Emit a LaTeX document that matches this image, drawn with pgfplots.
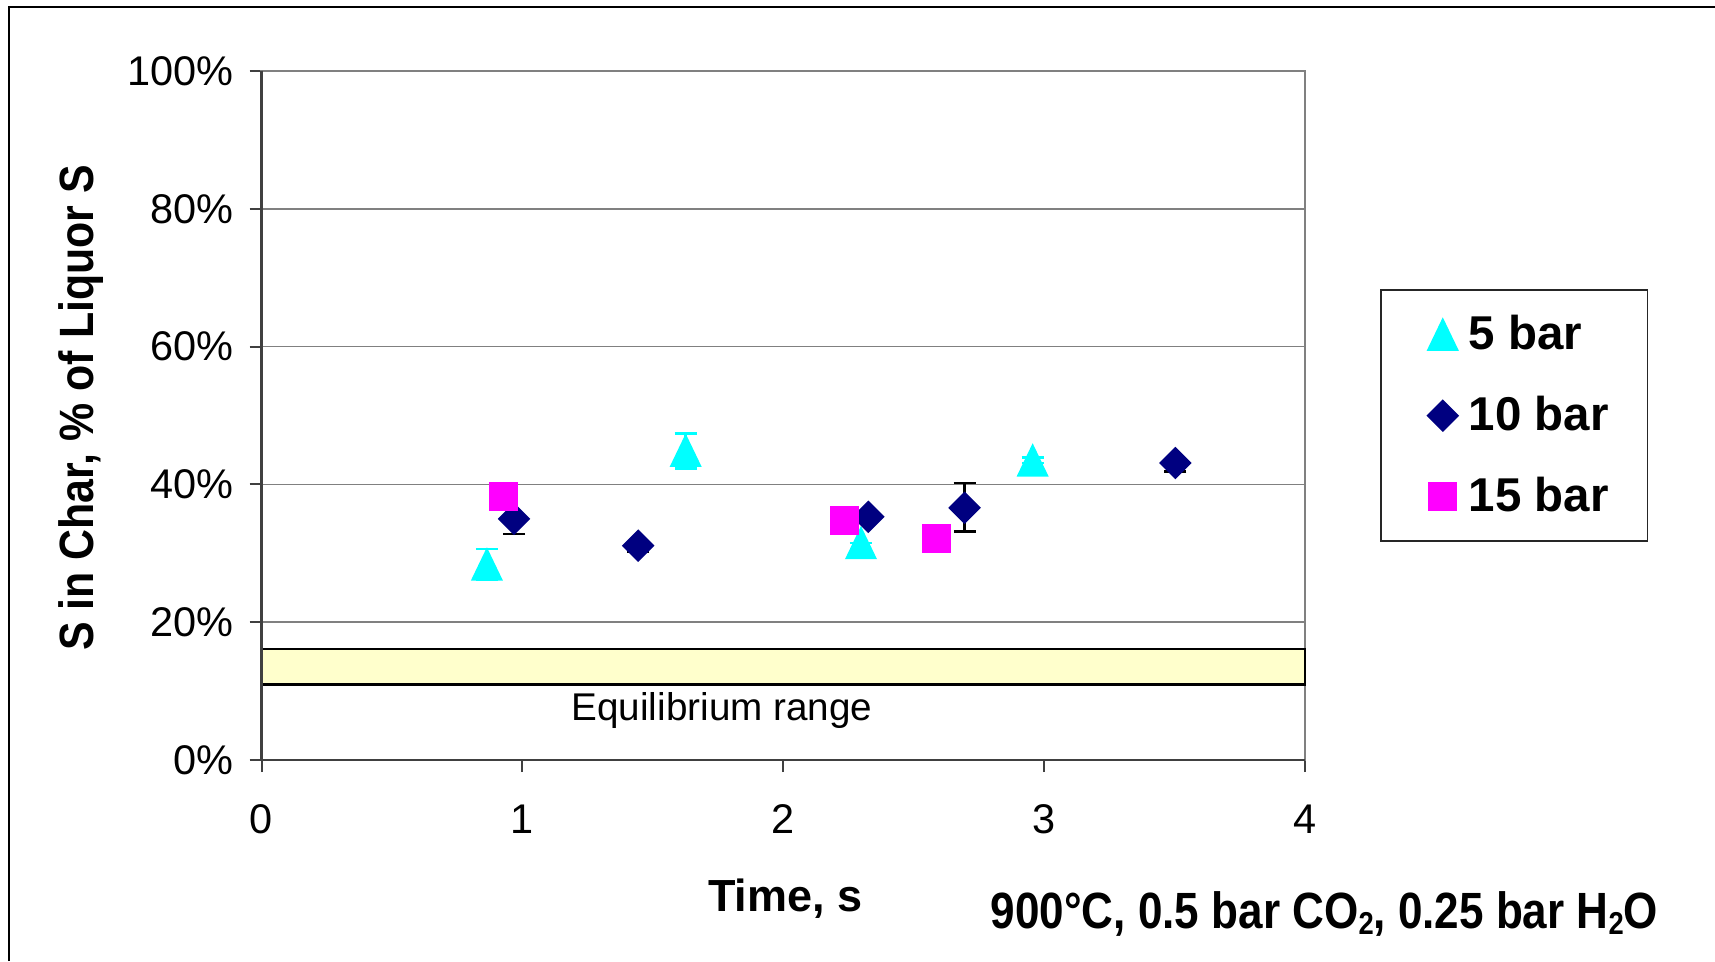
\documentclass[border=0pt]{standalone}
\usepackage{pgfplots}
\usepackage{pgfplotstable}
\pgfplotsset{compat=1.18}
\usepackage{fontspec}
\setmainfont{Liberation Sans}
\definecolor{cyanM}{RGB}{0,255,255}
\definecolor{navyM}{RGB}{0,0,128}
\definecolor{magM}{RGB}{255,0,255}
\definecolor{eqfill}{RGB}{255,255,204}
\definecolor{gridgray}{RGB}{128,128,128}
\definecolor{axdark}{RGB}{64,64,64}

\pgfplotstableread{
x y ep em
0.864 28.4 2.2 2.2
1.626 44.9 2.5 2.6
2.298 31.5 0 0
2.956 43.5 0.4 0.4
}\fivebar
\pgfplotstableread{
x y ep em
0.968 35.0 0 2.2
1.444 31.1 0 0.9
2.326 35.3 0 0
2.695 36.6 3.6 3.4
3.503 43.1 0 1.2
}\tenbar
\pgfplotstableread{
x y
0.927 38.2
2.234 34.7
2.588 32.1
}\fifteenbar

\begin{document}
\begin{tikzpicture}
\useasboundingbox (0,0) rectangle (17.15,9.61);
\draw[black, line width=0.2mm] (0.093,0) -- (0.093,9.543) -- (17.15,9.543);
\begin{axis}[
  at={(2.615cm,2.01cm)}, anchor=south west,
  scale only axis, width=10.435cm, height=6.89cm,
  xmin=0, xmax=4, ymin=0, ymax=100,
  xtick={0,1,2,3,4}, xticklabels={0,1,2,3,4},
  ytick={0,20,40,60,80,100}, yticklabels={0\%,20\%,40\%,60\%,80\%,100\%},
  xtick pos=left, ytick pos=left,
  tick align=outside, major tick length=1.2mm,
  tick style={draw=axdark, line width=0.2mm},
  ymajorgrids, major grid style={draw=gridgray, line width=0.17mm},
  axis line style={draw=gridgray, line width=0.25mm},
  ticklabel style={font=\fontsize{11.8}{13}\selectfont, inner sep=0pt},
  yticklabel style={xshift=-1.5mm},
  xticklabel style={yshift=-3.2mm},
  xlabel={Time, s},
  xlabel style={at={(axis description cs:0.502,-0.2206)}, anchor=base, inner sep=0pt, font=\fontsize{12.8}{15}\bfseries\selectfont},
  ylabel={\scalebox{0.89}[1]{S in Char, \% of Liquor S}},
  ylabel style={at={(axis description cs:-0.1612,0.511)}, anchor=base, inner sep=0pt, font=\fontsize{13.7}{16}\bfseries\selectfont},
  clip=false,
  legend style={at={(1.0719,0.683)}, anchor=north west, draw=black!85, line width=0.15mm, fill=white,
    font=\fontsize{13.5}{16}\bfseries\selectfont, inner xsep=3.9mm, inner ysep=2.45mm,
    row sep=4.15mm, column sep=1.0mm, nodes={inner sep=0pt}},
  legend cell align=left,
  legend image code/.code={\draw[#1] plot coordinates {(0cm,0cm)}; \path[draw=none, fill=none] (-2.3mm,-1.6mm) rectangle (1.6mm,1.6mm);},
]
% equilibrium range
\addplot[forget plot, draw=black, line width=0.28mm, fill=eqfill] coordinates {(0,11) (4,11) (4,16.1) (0,16.1)} -- cycle;
% error bars (behind markers)
\addplot[forget plot, draw=none, mark=none, error bars/.cd, y dir=both, y explicit, error mark=|,
  error bar style={draw=cyanM, line width=0.25mm},
  error mark options={draw=cyanM, line width=0.25mm, mark size=1.1mm}]
  table[x=x, y=y, y error plus=ep, y error minus=em] {\fivebar};
\addplot[forget plot, draw=none, mark=none, error bars/.cd, y dir=both, y explicit, error mark=|,
  error bar style={draw=black, line width=0.25mm},
  error mark options={draw=black, line width=0.25mm, mark size=1.1mm}]
  table[x=x, y=y, y error plus=ep, y error minus=em] {\tenbar};
% markers
\addplot[only marks, mark=triangle*, color=cyanM, mark size=1.72mm, mark options={yshift=-0.52mm, yscale=1.2}]
  table[x=x, y=y] {\fivebar};
\addlegendentry{5 bar}
\addplot[only marks, mark=square*, color=navyM, mark size=1.08mm, mark options={rotate=45}]
  table[x=x, y=y] {\tenbar};
\addlegendentry{10 bar}
\addplot[only marks, mark=square*, color=magM, mark size=1.38mm]
  table[x=x, y=y] {\fifteenbar};
\addlegendentry{15 bar}
\node[anchor=base, inner sep=0pt, font=\fontsize{11}{13}\selectfont] at (axis cs:1.765,5.8) {Equilibrium range};
\draw[axdark, line width=0.25mm] (rel axis cs:0,1) -- (rel axis cs:0,0) -- (rel axis cs:1,0);
\end{axis}
\node[anchor=base, inner sep=0pt, font=\fontsize{14.5}{17}\bfseries\selectfont] at (13.245,0.327)
  {\scalebox{0.864}[1]{900°C, 0.5 bar CO\raisebox{-0.57mm}{\fontsize{9}{10}\selectfont 2}, 0.25 bar H\raisebox{-0.57mm}{\fontsize{9}{10}\selectfont 2}O}};
\end{tikzpicture}
\end{document}
